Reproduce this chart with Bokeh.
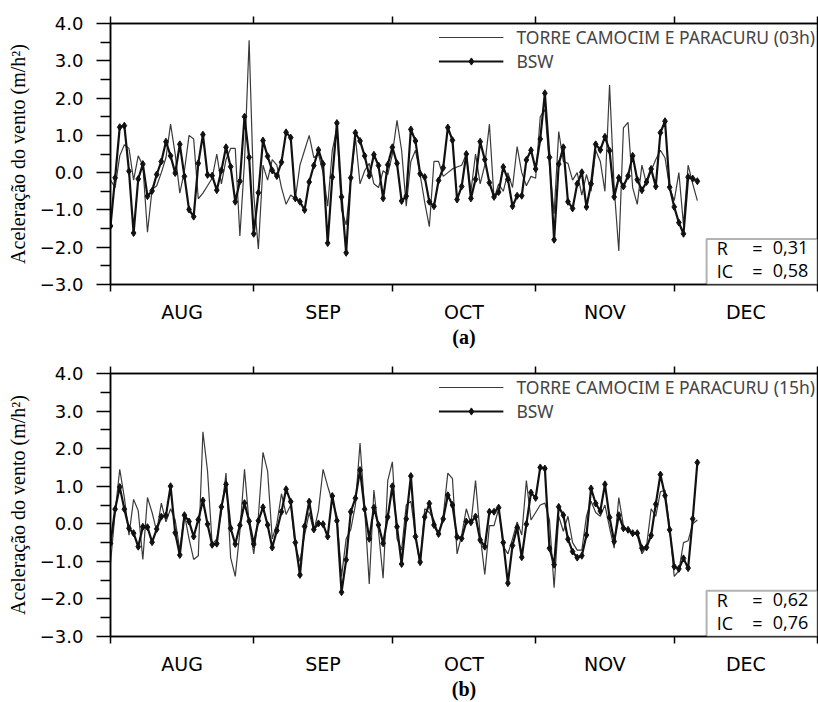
from bokeh.plotting import figure
from bokeh.layouts import column
from bokeh.models import (Range1d, FixedTicker, LinearAxis, Legend, LegendItem,
                          BoxAnnotation, Label, CustomJSTickFormatter)
from bokeh.embed import file_html
from bokeh.resources import INLINE

# ---- calendar (day 0 = 1 August) ----
months = ["AUG", "SEP", "OCT", "NOV", "DEC"]
month_edges = [0, 31, 61, 92, 122, 153]
month_mids = [15.5, 46, 76.5, 107, 137.5]

# ---- panel (a) 03h ----
torre_a = [-0.2, -0.4, 0.45, 0.75, 0.65, -0.2, 0.45, 0.2, -1.6, -0.45,
           -0.35, 0.0, 0.4, 1.3, 0.5, -0.55, 0.05, 1.0, 0.9, -0.7,
           -0.55, -0.35, -0.15, 0.5, -0.3, 0.35, 0.65, 0.65, -1.7, 0.3,
           3.55, -0.6, -2.05, 0.2, -0.2, 0.35, 0.2, -0.4, -0.85, -0.6,
           -0.7, 0.2, 0.6, 1.0, 0.4, 0.5, 0.0, -0.9, 0.6, 1.2,
           -1.0, -1.4, -0.2, 0.95, -0.3, 0.05, 0.25, -0.3, -0.4, 0.05,
           -0.05, 0.5, 1.4, 0.6, -0.9, 0.3, 0.6, -0.05, -0.8, -1.45,
           0.3, 0.3, -0.1, 0.0, 0.1, 0.15, 0.2, 0.5, -0.5, 0.5,
           -0.3, 0.2, 1.3, -0.7, -0.3, -0.5, 0.0, -0.4, 0.7, 0.0,
           -0.35, -0.1, -0.15, 1.5, 1.7, 0.2, -1.1, 1.1, 0.3, 0.25,
           -0.2, 0.0, -0.6, -0.05, -0.5, 0.6, 0.3, -0.5, 2.35, -0.4,
           -2.1, 1.2, 1.35, -0.4, -0.85, 0.2, -0.3, 0.05, 0.35, 0.6,
           0.4, -0.4, -0.75, 0.0, -1.4, 0.2, -0.3, -0.75]
bsw_a = [-1.43, -0.14, 1.22, 1.26, 0.04, -1.62, -0.17, 0.23, -0.63, -0.49,
         -0.05, 0.30, 0.83, 0.45, -0.01, 0.76, -0.10, -0.99, -1.18, 0.25,
         1.02, -0.06, -0.08, -0.47, 0.06, 0.68, 0.16, -0.78, -0.23, 1.50,
         0.41, -1.64, -0.54, 0.86, 0.44, 0.06, -0.09, 0.28, 1.08, 0.94,
         -0.69, -0.78, -1.00, -0.25, 0.19, 0.61, 0.23, -1.89, -0.12, 1.33,
         -0.65, -2.15, -0.14, 1.07, 0.85, 0.45, -0.08, 0.48, 0.19, -0.69,
         0.21, 0.68, 0.25, -0.76, -0.63, 1.16, 0.85, -0.03, -0.12, -0.78,
         -0.90, -0.21, 0.13, 1.21, 0.87, -0.72, -0.37, 0.50, -0.69, -0.18,
         0.83, 0.35, -0.27, -0.65, -0.52, 0.15, -0.18, -0.90, -0.62, -0.62,
         0.34, 0.60, 0.10, 0.90, 2.13, 0.41, -1.80, 0.23, 0.68, -0.78,
         -0.96, -0.30, 0.01, -0.92, -0.30, 0.76, 0.61, 0.96, 0.59, -0.65,
         -0.14, -0.37, -0.09, 0.45, -0.19, -0.47, -0.25, 0.10, -0.37, 1.07,
         1.38, -0.39, -0.92, -1.34, -1.64, -0.12, -0.16, -0.23]

# ---- panel (b) 15h ----
torre_b = [-1.05, 0.3, 1.45, 0.7, -0.3, 0.65, 0.35, -0.95, 0.7, 0.3,
           -0.2, 0.55, 0.05, 0.4, 0.1, -0.7, 0.25, -0.4, -0.95, -0.85,
           2.45, 1.4, -0.55, -0.4, 0.3, 1.35, -0.9, -1.4, -0.2, 1.45,
           0.0, -0.8, 0.2, 1.9, 1.4, -0.4, 0.0, 0.8, 0.25, 0.5,
           -0.6, -1.0, -0.3, 0.3, -0.2, 0.35, 1.45, 1.0, 0.6, 0.2,
           -1.4, -0.4, -0.15, 0.5, 2.15, 0.4, -1.6, 0.9, -0.2, -1.45,
           1.15, 1.65, -0.4, -0.7, 0.5, 0.6, -0.3, -1.1, 0.4, 0.3,
           0.1, -0.3, 0.2, 1.35, 1.2, -0.8, -0.3, 0.4, 0.0, 1.15,
           -0.3, -1.35, -0.05, -0.05, 0.4, -0.6, -0.8, -0.4, 0.05, -0.3,
           1.15, 0.1, 0.3, 0.5, 0.55, 0.1, -1.7, 0.2, -0.2, 0.2,
           -0.5, -0.7, -0.7, 0.2, 0.6, 0.3, 0.2, 0.5, -0.1, -0.65,
           0.7, -0.05, -0.2, -0.25, -0.3, -0.8, -0.6, 0.4, 0.2, 0.85,
           0.9, -0.1, -1.4, -1.25, -0.5, -0.45, 0.0, 0.1]
bsw_b = [-0.52, 0.39, 0.98, 0.39, -0.12, -0.25, -0.61, -0.08, -0.09, -0.49,
         -0.14, 0.19, 0.22, 1.00, -0.24, -0.83, 0.23, 0.06, -0.34, 0.11,
         0.62, -0.01, -0.56, -0.53, 0.45, 1.05, -0.12, -0.54, -0.04, 0.55,
         0.07, -0.54, 0.08, 0.44, -0.03, -0.63, -0.18, 0.32, 0.92, 0.59,
         -0.50, -1.36, -0.07, 0.59, -0.15, 0.01, -0.01, -0.34, 0.74, 0.08,
         -1.82, -0.96, 0.32, 0.68, 1.43, 0.39, -0.40, 0.43, -0.03, -0.52,
         0.18, 1.00, -0.08, -1.07, 0.13, 1.27, -0.34, -1.02, 0.18, 0.54,
         -0.03, -0.27, 0.13, 0.76, 0.50, -0.35, -0.39, 0.06, 0.04, 0.19,
         -0.43, -0.61, 0.32, 0.32, 0.43, -0.50, -1.58, -0.58, -0.10, -0.89,
         -0.01, 0.83, 0.69, 1.50, 1.47, -0.65, -1.09, 0.45, 0.23, -0.41,
         -0.74, -0.90, -0.85, -0.30, 0.94, 0.54, 0.34, 1.05, 0.17, -0.47,
         0.23, -0.12, -0.16, -0.25, -0.25, -0.65, -0.63, -0.31, 0.52, 1.31,
         0.75, -0.16, -1.14, -1.20, -0.92, -1.18, 0.13, 1.63]

y_ticks = [-3, -2, -1, 0, 1, 2, 3, 4]
y_minor = [-2.5, -1.5, -0.5, 0.5, 1.5, 2.5, 3.5]

TICK_FONT = "DejaVu Sans"


def make_panel(torre, bsw, torre_label, r_txt, ic_txt, caption, height, bottom):
    p = figure(width=818, height=height, output_backend="svg", toolbar_location=None,
               x_range=Range1d(0, 153), y_range=Range1d(-3, 4),
               min_border_left=110, min_border_right=1, min_border_top=23,
               min_border_bottom=bottom)
    p.grid.visible = False
    p.outline_line_color = "black"
    p.outline_line_width = 1.5
    p.background_fill_color = "white"

    # bottom axis: month names centered, boundary ticks as minor ticks
    xa = p.xaxis[0]
    xa.ticker = FixedTicker(ticks=month_mids, minor_ticks=month_edges)
    xa.major_label_overrides = {m: name for m, name in zip(month_mids, months)}
    xa.major_tick_line_color = None
    xa.major_tick_out = 0
    xa.minor_tick_in = 0
    xa.minor_tick_out = 7
    xa.minor_tick_line_color = "black"
    xa.minor_tick_line_width = 1.5
    xa.axis_line_color = "black"
    xa.axis_line_width = 1.5
    xa.major_label_standoff = 9
    xa.major_label_text_font = TICK_FONT
    xa.major_label_text_font_size = "19px"
    xa.major_label_text_color = "black"
    xa.axis_label = caption
    xa.axis_label_text_font = "Liberation Serif"
    xa.axis_label_text_font_style = "bold"
    xa.axis_label_text_font_size = "20px"
    xa.axis_label_text_color = "black"
    xa.axis_label_standoff = 0

    # top axis: only boundary ticks
    top = LinearAxis(ticker=FixedTicker(ticks=[], minor_ticks=month_edges),
                     minor_tick_in=0, minor_tick_out=7, minor_tick_line_width=1.5,
                     minor_tick_line_color="black", major_tick_line_color=None,
                     axis_line_color="black", axis_line_width=1.5,
                     major_label_text_font_size="0px")
    p.add_layout(top, "above")

    ya = p.yaxis[0]
    ya.ticker = FixedTicker(ticks=y_ticks, minor_ticks=y_minor)
    ya.formatter = CustomJSTickFormatter(
        code="return (tick < 0 ? '\u2212' : '') + Math.abs(tick).toFixed(1);")
    ya.major_tick_in = 0
    ya.major_tick_out = 14
    ya.minor_tick_in = 0
    ya.minor_tick_out = 10
    ya.major_tick_line_width = 1.5
    ya.minor_tick_line_width = 1.5
    ya.major_tick_line_color = "black"
    ya.minor_tick_line_color = "black"
    ya.axis_line_color = "black"
    ya.axis_line_width = 1.5
    ya.major_label_standoff = 13
    ya.major_label_text_font = TICK_FONT
    ya.major_label_text_font_size = "18px"
    ya.major_label_text_color = "black"
    ya.axis_label = "Aceleração do vento (m/h²)"
    ya.axis_label_text_font = "Liberation Serif"
    ya.axis_label_text_font_style = "normal"
    ya.axis_label_text_font_size = "20px"
    ya.axis_label_text_color = "black"
    ya.axis_label_standoff = 8

    x = list(range(len(bsw)))
    xt = list(range(len(torre)))
    r1 = p.line(xt, torre, line_color="#3a3a3a", line_width=1.2)
    r2 = p.line(x, bsw, line_color="#111111", line_width=2.2)
    r3 = p.scatter(x, bsw, marker="diamond", size=7, fill_color="#111111",
                   line_color="#111111")

    legend = Legend(items=[LegendItem(label=torre_label, renderers=[r1]),
                           LegendItem(label="BSW", renderers=[r2, r3])],
                    location="top_right", border_line_color=None,
                    background_fill_alpha=0, label_text_font="Noto Sans",
                    label_text_font_size="17.5px", glyph_width=65, glyph_height=18,
                    label_height=18, label_standoff=13, spacing=-3, padding=0,
                    margin=2)
    p.add_layout(legend)

    box = BoxAnnotation(left=129, right=153, bottom=-3, top=-1.78,
                        fill_color="white", fill_alpha=1, line_color="black",
                        line_width=2)
    p.add_layout(box)
    for yv, name, val in [(-2.02, "R", r_txt), (-2.63, "IC", ic_txt)]:
        for xv, txt, al in [(131.2, name, "left"), (140, "=", "center"), (151, val, "right")]:
            p.add_layout(Label(x=xv, y=yv, text=txt, text_font="Open Sans",
                               text_font_size="18px", text_baseline="middle",
                               text_align=al, text_color="black"))
    return p


pa = make_panel(torre_a, bsw_a, "TORRE CAMOCIM E PARACURU (03h)", "0,31", "0,58",
                "(a)", 350, 63)
pb = make_panel(torre_b, bsw_b, "TORRE CAMOCIM E PARACURU (15h)", "0,62", "0,76",
                "(b)", 352, 65)

layout = column(pa, pb, spacing=0)
with open("out.html", "w", encoding="utf-8") as f:
    f.write(file_html(layout, INLINE))
